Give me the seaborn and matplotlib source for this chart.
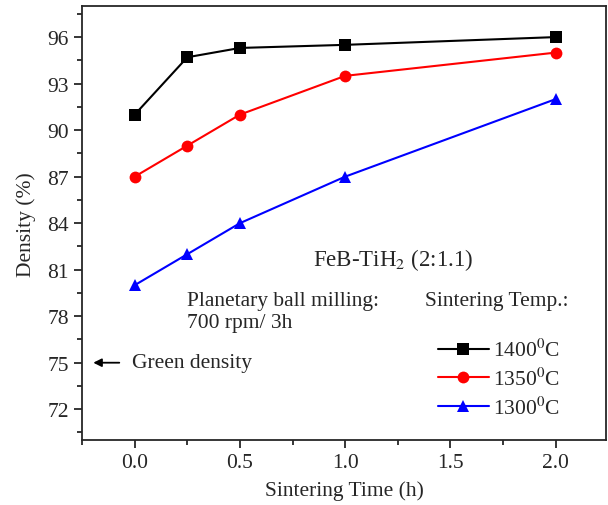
import matplotlib
matplotlib.use("Agg")
import matplotlib.pyplot as plt
import pandas as pd
import seaborn as sns
from matplotlib.ticker import FormatStrFormatter, MultipleLocator

time_h = [0.0, 0.25, 0.5, 1.0, 2.0]
density_1400 = [91.0, 94.7, 95.3, 95.5, 96.0]
density_1350 = [87.0, 89.0, 91.0, 93.5, 95.0]
density_1300 = [80.0, 82.0, 84.0, 87.0, 92.0]
temp_labels = ["1400$^0$C", "1350$^0$C", "1300$^0$C"]
green_density = 75.0

series = [density_1400, density_1350, density_1300]
df = pd.concat(
    [pd.DataFrame({"time": time_h, "density": vals, "temp": lab})
     for vals, lab in zip(series, temp_labels)],
    ignore_index=True,
)

sns.set_style("ticks")
plt.rcParams["font.family"] = ["Liberation Serif", "DejaVu Serif"]
plt.rcParams["mathtext.fontset"] = "stix"

fs = 15.5

fig = plt.figure(figsize=(6.08, 5.06), dpi=100)
ax = fig.add_axes([0.135, 0.128, 0.862, 0.858])

sns.lineplot(
    data=df, x="time", y="density", hue="temp", style="temp",
    palette=["black", "#ff0000", "#0000ff"],
    markers=["s", "o", "^"], dashes=False, markersize=8.5,
    markeredgewidth=0, linewidth=1.5, ax=ax,
)

ax.set_xlim(-0.25, 2.24)
ax.set_ylim(70, 98)
ax.xaxis.set_major_locator(MultipleLocator(0.5))
ax.xaxis.set_minor_locator(MultipleLocator(0.25))
ax.yaxis.set_minor_locator(MultipleLocator(1.5))
ax.set_yticks([72, 75, 78, 81, 84, 87, 90, 93, 96])
ax.xaxis.set_major_formatter(FormatStrFormatter("%.1f"))
ax.tick_params(which="major", length=6, width=1.3, labelsize=fs, direction="out")
ax.tick_params(which="minor", length=3.5, width=1.3, direction="out")
for sp in ax.spines.values():
    sp.set_linewidth(1.3)

ax.set_xlabel("Sintering Time (h)", fontsize=fs, labelpad=6)
ax.set_ylabel("Density (%)", fontsize=fs, labelpad=8)

ax.annotate("", xy=(-0.21, green_density), xytext=(-0.06, green_density),
            arrowprops=dict(arrowstyle="-|>", color="black", lw=1.3,
                            mutation_scale=12))
ax.text(-0.015, green_density, "Green density", fontsize=fs, va="center")
ax.text(1.23, 81.7, "FeB-TiH$_2$ (2:1.1)", fontsize=16.5, ha="center", va="center")
ax.text(0.25, 78.3, "Planetary ball milling:\n700 rpm/ 3h", fontsize=fs,
        va="center", linespacing=1.25)
ax.text(1.38, 79.0, "Sintering Temp.:", fontsize=fs, va="center")

ax.legend(loc="lower left", bbox_to_anchor=(0.679, 0.05), frameon=False,
          fontsize=fs, handlelength=2.35, labelspacing=0.3,
          borderaxespad=0, borderpad=0, handletextpad=0.2)

fig.savefig("out.png", dpi=100)
